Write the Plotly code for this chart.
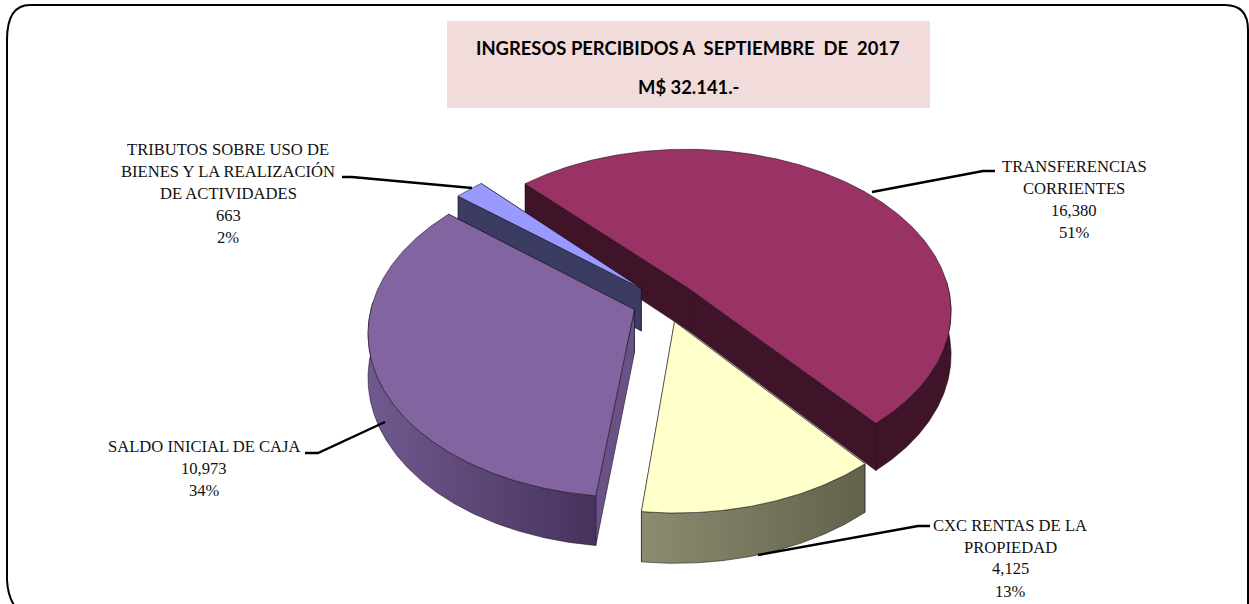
import numpy as np
import plotly.graph_objects as go

# ---------- data ----------
categories = ["TRANSFERENCIAS CORRIENTES", "CXC RENTAS DE LA PROPIEDAD",
              "SALDO INICIAL DE CAJA", "TRIBUTOS SOBRE USO DE BIENES Y LA REALIZACIÓN DE ACTIVIDADES"]
values = [16380, 4125, 10973, 663]
percents = ["51%", "13%", "34%", "2%"]
top_colors = ["#993366", "#FFFFCC", "#8264A0", "#9999FF"]
radial_colors = ["#3F1328", "#66664F", "#6A5288", "#3C3C63"]
wall_left = ["#3F1328", "#8C8C70", "#70598F", "#3C3C63"]
wall_right = ["#3F1328", "#62624C", "#46335C", "#3C3C63"]
title_lines = ["INGRESOS PERCIBIDOS A  SEPTIEMBRE  DE  2017", "M$ 32.141.-"]
label_lines = [
    ["TRANSFERENCIAS", "CORRIENTES", "16,380", "51%"],
    ["CXC RENTAS DE LA", "PROPIEDAD", "4,125", "13%"],
    ["SALDO INICIAL DE CAJA", "10,973", "34%"],
    ["TRIBUTOS SOBRE USO DE", "BIENES Y LA REALIZACIÓN", "DE ACTIVIDADES", "663", "2%"],
]

# ---------- projection of the tilted, exploded pie ----------
CX, CY, RX, RY, K, DEPTH, EXPLODE = 665, 302, 262, 161, 0.13, 43, 0.125
START = -43.2
W, H = 1249, 604


def project(u, v, z=0.0):
    s = 1 / (1 + K * v)
    return CX + RX * u * s, CY - RY * v * s + z * s


fractions = np.array(values) / sum(values)
ends = START + np.cumsum(fractions) * 360
starts = ends - fractions * 360

fig = go.Figure()


def poly(xs, ys, fill=None, grad=None, line="rgba(20,10,20,0.75)"):
    kw = dict(fillcolor=fill) if grad is None else dict(
        fillgradient=dict(type="horizontal", colorscale=[[0, grad[0]], [1, grad[1]]]))
    fig.add_trace(go.Scatter(x=list(xs) + [xs[0]], y=list(ys) + [ys[0]], mode="lines", fill="toself",
                             line=dict(color=line, width=0.7), hoverinfo="skip", showlegend=False, **kw))


paint_order = [0, 3, 2, 1]
for i in paint_order:
    a0, a1 = np.radians(starts[i]), np.radians(ends[i])
    mid = (a0 + a1) / 2
    ou, ov = EXPLODE * np.sin(mid), EXPLODE * np.cos(mid)
    n = max(int(np.degrees(a1 - a0)), 4) * 2
    t = np.linspace(a0, a1, n)
    u, v = ou + np.sin(t), ov + np.cos(t)
    ax, ay = project(ou, ov)
    bx, by = project(ou, ov, DEPTH)
    tx, ty = project(u, v)
    gx, gy = project(u, v, DEPTH)
    # radial faces: far one first
    poly([ax, tx[-1], gx[-1], bx], [ay, ty[-1], gy[-1], by], radial_colors[i])
    poly([ax, tx[0], gx[0], bx], [ay, ty[0], gy[0], by], radial_colors[i])
    # outer wall: only the part facing the viewer
    front = np.cos(t) < 0.05
    if front.any():
        fx, fy, hx, hy = tx[front], ty[front], gx[front], gy[front]
        poly(list(fx) + list(hx[::-1]), list(fy) + list(hy[::-1]), grad=(wall_left[i], wall_right[i]))
    # top face
    poly([ax] + list(tx), [ay] + list(ty), top_colors[i])

# ---------- leader lines ----------
leaders = [
    ([872, 983, 995], [192, 171, 171]),
    ([758, 918, 930], [555, 526, 526]),
    ([385, 318, 305], [422, 453, 453]),
    ([472, 352, 342], [188, 177, 177]),
]
for lx, ly in leaders:
    fig.add_trace(go.Scatter(x=lx, y=ly, mode="lines", line=dict(color="black", width=2.4),
                             hoverinfo="skip", showlegend=False))

# ---------- text ----------
annotations = []
label_x = [1074, 1010, 204, 228]
label_y = [[166, 188, 210, 232], [525, 547, 568, 591], [446, 468, 490], [149, 171, 193, 215, 237]]
for lines, x, ys in zip(label_lines, label_x, label_y):
    for line, y in zip(lines, ys):
        annotations.append(dict(x=x, y=y, text=line, showarrow=False, xanchor="center", yanchor="middle",
                                font=dict(family="Liberation Serif", size=16.6, color="#111111")))
for line, y in zip(title_lines, [48, 87]):
    annotations.append(dict(x=688, y=y, text="<b>" + line + "</b>", showarrow=False, xanchor="center",
                            yanchor="middle", font=dict(family="Lato", size=18.4, color="black")))

shapes = [
    dict(type="rect", x0=447, x1=930, y0=21, y1=108, fillcolor="#F2DCDB", line=dict(width=0), layer="below"),
    dict(type="path", layer="below", line=dict(color="black", width=2),
         path="M 7 40 Q 7 5 30 5 L 1225 5 Q 1248 5 1248 30 L 1248 620 M 7 40 L 7 580 Q 8 600 18 610"),
]

fig.update_layout(
    width=W, height=H, autosize=False, margin=dict(l=0, r=0, t=0, b=0),
    paper_bgcolor="white", plot_bgcolor="white", showlegend=False,
    xaxis=dict(range=[0, W], visible=False, fixedrange=True),
    yaxis=dict(range=[H, 0], visible=False, fixedrange=True),
    shapes=shapes, annotations=annotations,
)
fig.write_html("out.html", config={"displayModeBar": False},
               post_script="document.body.style.margin='0';document.body.style.overflow='hidden';")
